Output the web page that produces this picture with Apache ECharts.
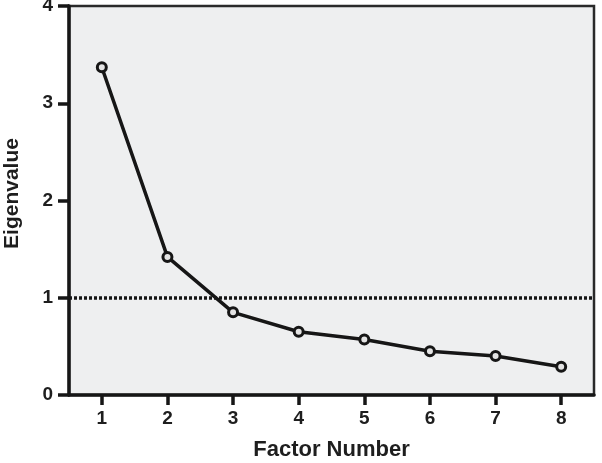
<!DOCTYPE html>
<html><head><meta charset="utf-8">
<script src="https://cdn.jsdelivr.net/npm/echarts@6/dist/echarts.min.js"></script>
<style>html,body{margin:0;padding:0;background:#fff}#c{width:602px;height:463px}</style>
</head><body><div id="c"></div>
<script>
const categories = ['1','2','3','4','5','6','7','8'];
const eigenvalues = [3.37, 1.42, 0.85, 0.65, 0.57, 0.45, 0.40, 0.29];
const yTicks = [0, 1, 2, 3, 4];
const cutoff = 1;

const chart = echarts.init(document.getElementById('c'));
const fontFam = 'Liberation Sans, Arial, sans-serif';
const ink = '#161616';
chart.setOption({
  animation: false,
  backgroundColor: '#ffffff',
  grid: {left: 69, right: 8, top: 6, bottom: 68, containLabel: false, outerBoundsMode: 'none',
         show: true, backgroundColor: '#eeeff0', borderColor: '#2a2a2a', borderWidth: 2.5},
  xAxis: {
    type: 'category', data: categories, boundaryGap: true,
    name: 'Factor Number', nameLocation: 'middle', nameGap: 44,
    nameTextStyle: {fontFamily: fontFam, fontSize: 22, fontWeight: 'bold', color: '#1e1e1e'},
    axisLine: {lineStyle: {color: ink, width: 3.5}},
    axisTick: {show: true, alignWithLabel: true, inside: false, length: 10, lineStyle: {color: ink, width: 3.5}},
    axisLabel: {fontFamily: fontFam, fontSize: 19, fontWeight: 'bold', color: '#1e1e1e', margin: 14},
    splitLine: {show: false}
  },
  yAxis: {
    type: 'value', min: yTicks[0], max: yTicks[yTicks.length - 1], interval: 1,
    name: 'Eigenvalue', nameLocation: 'middle', nameGap: 46,
    nameTextStyle: {fontFamily: fontFam, fontSize: 21, fontWeight: 'bold', color: '#1e1e1e', padding: [0, 0, 0, 14]},
    axisLine: {show: true, lineStyle: {color: ink, width: 3.5}},
    axisTick: {show: true, inside: false, length: 11, lineStyle: {color: ink, width: 3.5}},
    axisLabel: {fontFamily: fontFam, fontSize: 19, fontWeight: 'bold', color: '#1e1e1e', margin: 16},
    splitLine: {show: false}
  },
  series: [{
    type: 'line', data: eigenvalues,
    symbol: 'circle', symbolSize: 9,
    itemStyle: {color: '#e4e4e4', borderColor: ink, borderWidth: 3},
    lineStyle: {color: ink, width: 3.5},
    markLine: {
      silent: true, symbol: 'none', label: {show: false},
      lineStyle: {color: ink, width: 3.5, type: [3, 2]},
      data: [{yAxis: cutoff}]
    }
  }]
});
</script></body></html>
